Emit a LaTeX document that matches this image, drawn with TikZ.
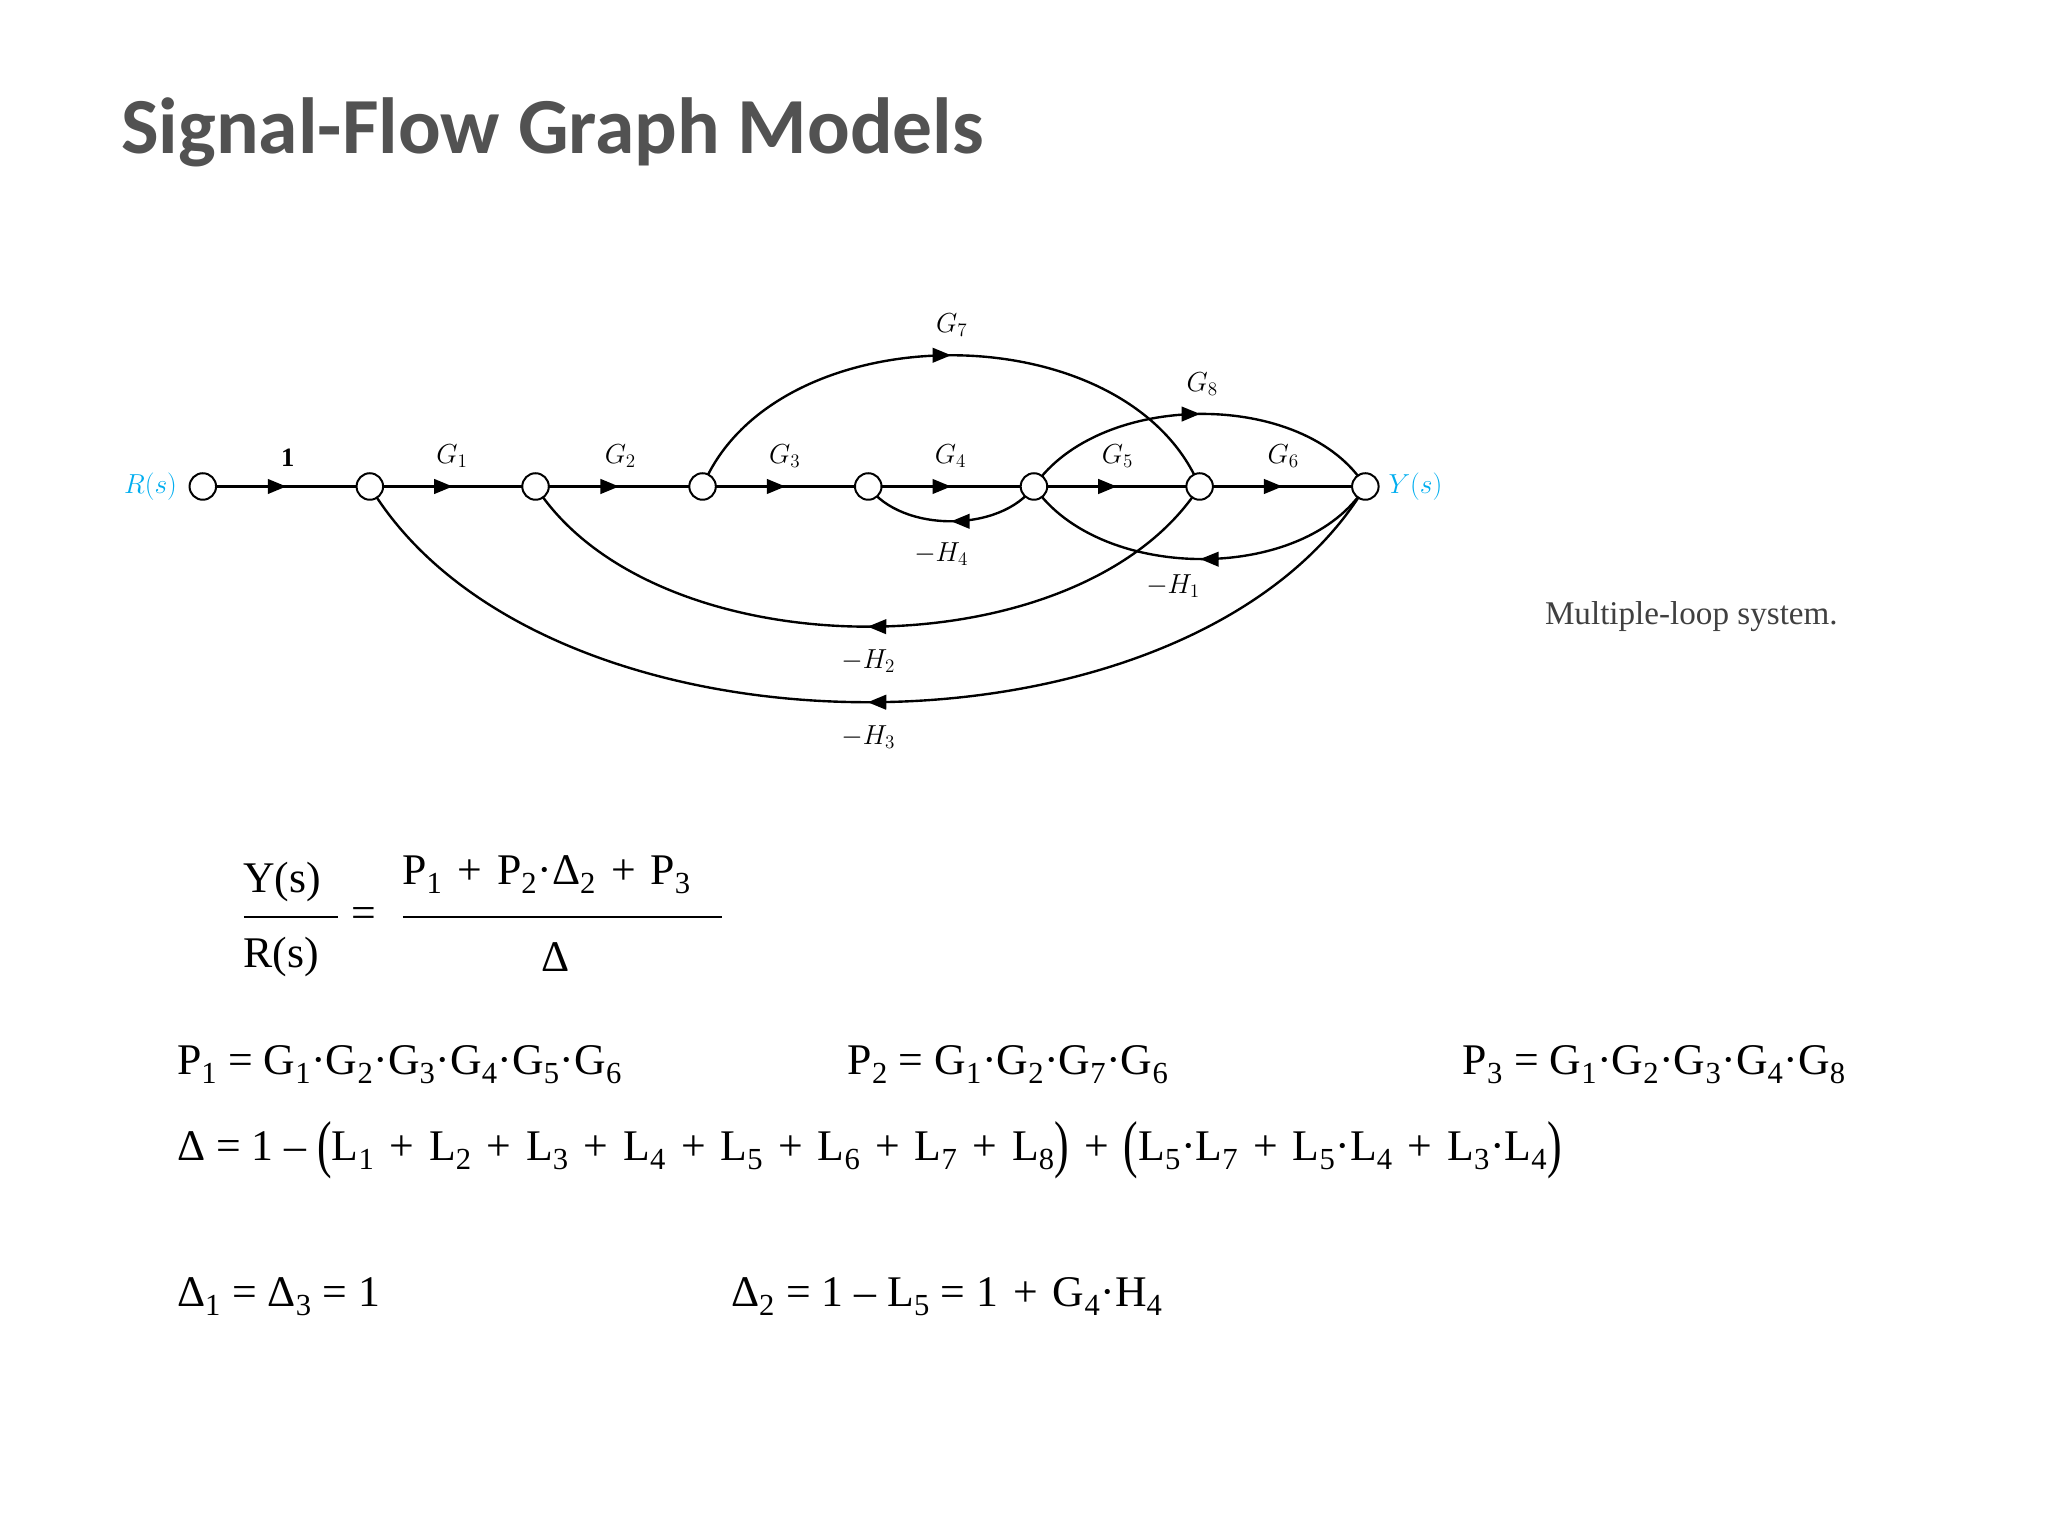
\documentclass[tikz,border=0pt]{standalone}
\usepackage{fontspec}
\setmainfont{Liberation Serif}
\newfontfamily\titlefont{Carlito}
\usetikzlibrary{decorations.markings,arrows.meta}
\newcommand{\pl}{\ \hspace{3pt}+\hspace{3pt}\ }
\newcommand{\bp}[1]{\raisebox{-4pt}{\scalebox{1}[1.45]{#1}}}
\begin{document}
\begin{tikzpicture}[x=1pt,y=-1pt,
  nd/.style={circle,draw,line width=1.5pt,minimum size=20pt,inner sep=0pt,fill=white},
  br/.style={line width=1.8pt,postaction={decorate},decoration={markings,mark=at position 0.5 with {\arrow{Triangle[length=14pt,width=11pt]}}}},
  gl/.style={font=\fontsize{21}{22}\selectfont\itshape},
  eq/.style={font=\fontsize{33}{40}\selectfont,anchor=west}]
\useasboundingbox (0,0) rectangle (1545,1159);
\node[anchor=west,text=black!68,font=\titlefont\bfseries\fontsize{60}{66}\selectfont] (title) at (88,100) {Signal-Flow Graph Models};
\foreach \n/\x in {R/153,a/279,b/404,c/530,d/655,e/780,f/905,Y/1030}{\coordinate (\n) at (\x,367);}
\draw[br] (R) -- (a);
\draw[br] (a) -- (b);
\draw[br] (b) -- (c);
\draw[br] (c) -- (d);
\draw[br] (d) -- (e);
\draw[br] (e) -- (f);
\draw[br] (f) -- (Y);
\draw[br] (c) .. controls (585,235) and (850,235) .. (f);
\draw[br] (e) .. controls (830,294) and (985,294) .. (Y);
\draw[br] (e) .. controls (755,402) and (680,402) .. (d);
\draw[br] (Y) .. controls (985,440) and (830,440) .. (e);
\draw[br] (f) .. controls (815,508) and (495,508) .. (b);
\draw[br] (Y) .. controls (900,584) and (410,584) .. (a);
\foreach \n in {R,a,b,c,d,e,f,Y}{\node[nd] at (\n) {};}
\node[font=\fontsize{20}{20}\selectfont\bfseries] (l1) at (217,345) {1};
\node[gl] (g1) at (341,344) {$G_1$};
\node[gl] (g2) at (468,344) {$G_2$};
\node[gl] (g3) at (592,344) {$G_3$};
\node[gl] (g4) at (717,344) {$G_4$};
\node[gl] (g5) at (843,344) {$G_5$};
\node[gl] (g6) at (968,344) {$G_6$};
\node[gl] (g7) at (718,245) {$G_7$};
\node[gl] (g8) at (907,290) {$G_8$};
\node[gl] (h4) at (710,418) {$-H_4$};
\node[gl] (h1) at (885,442) {$-H_1$};
\node[gl] (h2) at (655,499) {$-H_2$};
\node[gl] (h3) at (655,556) {$-H_3$};
\node[gl,text=cyan,anchor=east] (rs) at (137,367) {$R(s)$};
\node[gl,text=cyan,anchor=west] (ys) at (1044,367) {$Y(s)$};
\node[anchor=west,text=black!75,font=\fontsize{25}{28}\selectfont] (cap) at (1162,465) {Multiple-loop system.};
\node[eq] (num1) at (180,665) {Y(s)};
\node[eq] (den1) at (180,722) {R(s)};
\draw[line width=1.5pt] (184,692) -- (255,692);
\node[eq] (eqs) at (262,692) {=};
\node[eq] (num2) at (300,660) {P\textsubscript{1}\pl P\textsubscript{2}·Δ\textsubscript{2}\pl P\textsubscript{3}};
\draw[line width=1.5pt] (304,692) -- (545,692);
\node[eq] (den2) at (405,722) {Δ};
\node[eq] (p1) at (130,803) {P\textsubscript{1} = G\textsubscript{1}·G\textsubscript{2}·G\textsubscript{3}·G\textsubscript{4}·G\textsubscript{5}·G\textsubscript{6}};
\node[eq] (p2) at (636,803) {P\textsubscript{2} = G\textsubscript{1}·G\textsubscript{2}·G\textsubscript{7}·G\textsubscript{6}};
\node[eq] (p3) at (1100,803) {P\textsubscript{3} = G\textsubscript{1}·G\textsubscript{2}·G\textsubscript{3}·G\textsubscript{4}·G\textsubscript{8}};
\node[eq] (dl) at (130,868) {Δ = 1 – \bp{(}L\textsubscript{1}\pl L\textsubscript{2}\pl L\textsubscript{3}\pl L\textsubscript{4}\pl L\textsubscript{5}\pl L\textsubscript{6}\pl L\textsubscript{7}\pl L\textsubscript{8}\bp{)}\pl\bp{(}L\textsubscript{5}·L\textsubscript{7}\pl L\textsubscript{5}·L\textsubscript{4}\pl L\textsubscript{3}·L\textsubscript{4}\bp{)}};
\node[eq] (d13) at (130,978) {Δ\textsubscript{1} = Δ\textsubscript{3} = 1};
\node[eq] (d2) at (548,978) {Δ\textsubscript{2} = 1 – L\textsubscript{5} = 1\pl G\textsubscript{4}·H\textsubscript{4}};
\end{tikzpicture}
\end{document}
